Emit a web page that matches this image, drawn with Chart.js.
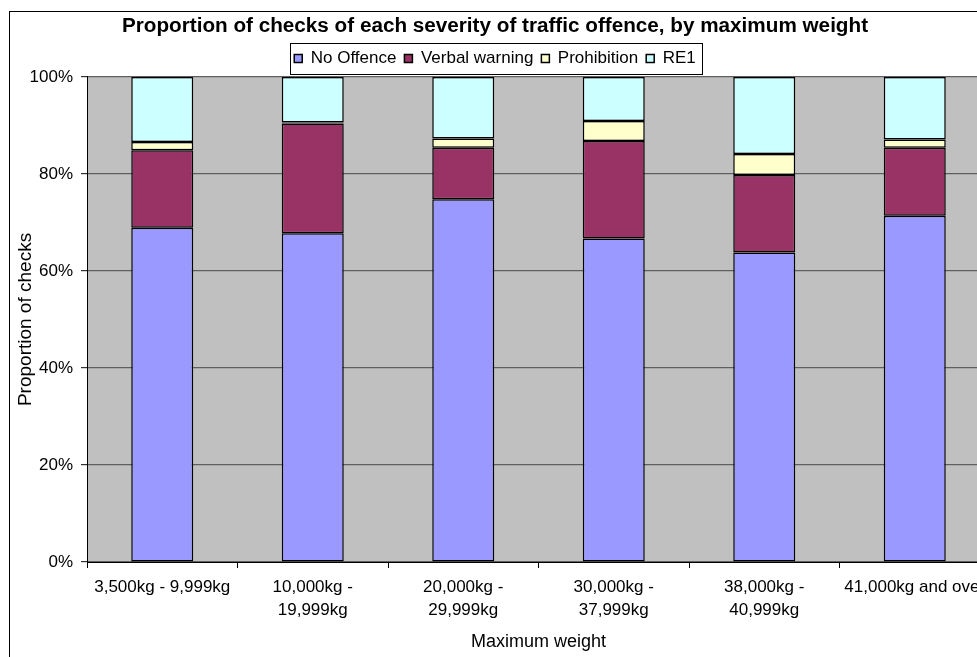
<!DOCTYPE html>
<html>
<head>
<meta charset="utf-8">
<title>Proportion of checks by maximum weight</title>
<script src="https://cdn.jsdelivr.net/npm/chart.js@4.4.0/dist/chart.umd.min.js"></script>
<style>
  html, body { margin: 0; padding: 0; background: #fff; overflow: hidden; }
  canvas { display: block; }
</style>
</head>
<body>
<canvas id="weightChart" width="993" height="690"></canvas>
<script>
  const categories = [
    '3,500kg - 9,999kg',
    ['10,000kg -', '19,999kg'],
    ['20,000kg -', '29,999kg'],
    ['30,000kg -', '37,999kg'],
    ['38,000kg -', '40,999kg'],
    '41,000kg and over'
  ];
  const noOffence = [68.9, 67.8, 74.8, 66.7, 63.8, 71.4];
  const verbalWarning = [16.0, 22.6, 10.6, 20.1, 16.0, 14.0];
  const prohibition = [1.7, 0.2, 1.9, 4.1, 4.3, 1.7];
  const re1 = [13.4, 9.4, 12.7, 9.1, 15.9, 12.9];
  const yTicks = [0, 20, 40, 60, 80, 100];

  const font = "Arial, 'Liberation Sans', sans-serif";

  // grey plot area, outer frame and the box round the legend
  const decorations = {
    id: 'decorations',
    beforeDraw(chart) {
      const ctx = chart.ctx;
      const a = chart.chartArea;
      ctx.save();
      ctx.fillStyle = '#fff';
      ctx.fillRect(0, 0, chart.width, chart.height);
      ctx.strokeStyle = '#000';
      ctx.lineWidth = 1;
      ctx.strokeRect(9.5, 11.5, chart.width + 20, chart.height + 20);
      ctx.fillStyle = '#c0c0c0';
      ctx.fillRect(a.left, a.top, a.right - a.left, a.bottom - a.top);
      ctx.restore();
    },
    afterDraw(chart) {
      const boxes = chart.legend.legendHitBoxes;
      if (!boxes || !boxes.length) return;
      const left = Math.min(...boxes.map(b => b.left)) - 4;
      const right = Math.max(...boxes.map(b => b.left + b.width)) + 6;
      const top = boxes[0].top - 7;
      const bottom = boxes[0].top + boxes[0].height + 7;
      const ctx = chart.ctx;
      ctx.save();
      ctx.strokeStyle = '#000';
      ctx.lineWidth = 1;
      ctx.strokeRect(Math.round(left) + 0.5, Math.round(top) + 0.5, Math.round(right - left), Math.round(bottom - top));
      ctx.restore();
    }
  };

  function series(label, data, color) {
    return {
      label: label,
      data: data,
      backgroundColor: color,
      borderColor: '#000',
      borderWidth: 1.5,
      borderSkipped: false,
      categoryPercentage: 1,
      barPercentage: 0.412
    };
  }

  new Chart(document.getElementById('weightChart'), {
    type: 'bar',
    data: {
      labels: categories,
      datasets: [
        series('No Offence', noOffence, '#9999ff'),
        series('Verbal warning', verbalWarning, '#993366'),
        series('Prohibition', prohibition, '#ffffcc'),
        series('RE1', re1, '#ccffff')
      ]
    },
    options: {
      responsive: false,
      animation: false,
      layout: { padding: { left: 0, right: 3, top: 0, bottom: 0 } },
      plugins: {
        title: {
          display: true,
          text: 'Proportion of checks of each severity of traffic offence, by maximum weight',
          color: '#000',
          font: { family: font, size: 20.7, weight: 'bold' },
          padding: { top: 13.6, bottom: 3.5 }
        },
        legend: {
          position: 'top',
          labels: {
            color: '#000',
            font: { family: font, size: 17 },
            boxWidth: 8,
            boxHeight: 8,
            padding: 8
          }
        },
        tooltip: { enabled: false }
      },
      scales: {
        x: {
          stacked: true,
          afterFit: s => { s.height = 690 - 562; },
          border: { color: '#000', width: 1 },
          grid: { display: true, drawOnChartArea: false, tickLength: 6, tickColor: '#000', offset: true },
          ticks: {
            color: '#000',
            font: { family: font, size: 17, lineHeight: 1.35 },
            padding: 7.5,
            maxRotation: 0,
            minRotation: 0,
            autoSkip: false
          },
          title: {
            display: true,
            text: 'Maximum weight',
            color: '#000',
            font: { family: font, size: 18 },
            padding: { top: 4, bottom: 37.5 }
          }
        },
        y: {
          stacked: true,
          min: 0,
          max: 100,
          afterFit: s => { s.width = 87; },
          afterBuildTicks: s => { s.ticks = yTicks.map(v => ({ value: v })); },
          border: { color: '#000', width: 1 },
          grid: { color: '#5f5f5f', lineWidth: 1.2, tickLength: 6, tickColor: '#333' },
          ticks: {
            color: '#000',
            font: { family: font, size: 17 },
            padding: 8,
            callback: v => v + '%'
          },
          title: {
            display: true,
            text: 'Proportion of checks',
            color: '#000',
            font: { family: font, size: 19 },
            padding: { top: 14, bottom: 4 }
          }
        }
      }
    },
    plugins: [decorations]
  });
</script>
</body>
</html>
